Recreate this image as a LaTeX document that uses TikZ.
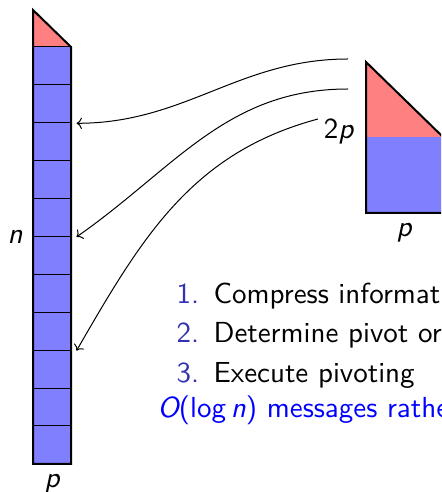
\documentclass[tikz,border=0pt]{standalone}
\usetikzlibrary{positioning, arrows.meta}
\definecolor{structblue}{RGB}{51,51,179}
\tikzset{
	cellnode/.style={
			draw=black,
			line width=0.5pt,
			fill=blue!50,
			minimum width=19pt,
			minimum height=18.95pt,
			inner sep=0pt
		},
	outline/.style={
			draw=black,
			line width=1pt,
			line join=miter
		},
	dimlabel/.style={
			font=\sffamily\fontsize{10}{12}\selectfont,
			scale=1.45,
			transform shape,
			inner sep=0pt
		},
	itemnum/.style={
			dimlabel,
			text=structblue,
			anchor=base west
		},
	itemtext/.style={
			dimlabel,
			text=black,
			anchor=base west
		},
	msgarrow/.style={
			line width=0.5pt,
			->
		}
}

\begin{document}
\begin{tikzpicture}[x=0.5pt, y=0.5pt]
\useasboundingbox (0,0) rectangle (441,492);
\clip (0,0) rectangle (441,492);

    % the n x p column, split into blocks
    \fill[red!50] (33,482) -- (71,445) -- (33,445) -- cycle;
    \foreach \i in {1,...,11}
        \node[cellnode] (c\i) at (52, 445-37.9*\i+18.95) {};
    \draw[outline] (33,482) -- (71,445) -- (71,28) -- (33,28) -- cycle;

    \node[dimlabel, anchor=base] (n) at (15,248) {\slshape n};
    \node[dimlabel, anchor=base] (pl) at (52,5) {\slshape p};

    % the 2p x p block on the right
    \fill[red!50] (366,430) -- (443,355) -- (366,355) -- cycle;
    \fill[blue!50] (366,355) rectangle (443,279);
    \draw[outline] (366,430) -- (443,355) -- (443,279) -- (366,279) -- cycle;

    \node[dimlabel, anchor=base east] (twop) at (354,353) {2\slshape p};
    \node[dimlabel, anchor=base] (pr) at (404,255) {\slshape p};

    % messages
    \coordinate (s1) at (348,433);
    \coordinate (s2) at (348,403);
    \coordinate (s3) at (318,373);
    \coordinate (t1) at ([xshift=2.5pt]c2.south east);
    \coordinate (t2) at ([xshift=2.5pt]c5.south east);
    \coordinate (t3) at ([xshift=2.5pt]c8.south east);

    \draw[msgarrow] (s1) to[out=180, in=0] (t1);
    \draw[msgarrow] (s2) to[out=180, in=35] (t2);
    \draw[msgarrow] (s3) to[out=195, in=60] (t3);

    % steps
    \node[itemnum] (k1) at (176,188) {1.};
    \node[itemtext] (i1) at (213,188) {Compress information};
    \node[itemnum] (k2) at (176,149) {2.};
    \node[itemtext] (i2) at (213,149) {Determine pivot order};
    \node[itemnum] (k3) at (176,109) {3.};
    \node[itemtext] (i3) at (213,109) {Execute pivoting};

    \node[itemtext, text=blue] (msg) at (157,74) {{\slshape O}(log\,{\slshape n}) messages rather};

\end{tikzpicture}
\end{document}
